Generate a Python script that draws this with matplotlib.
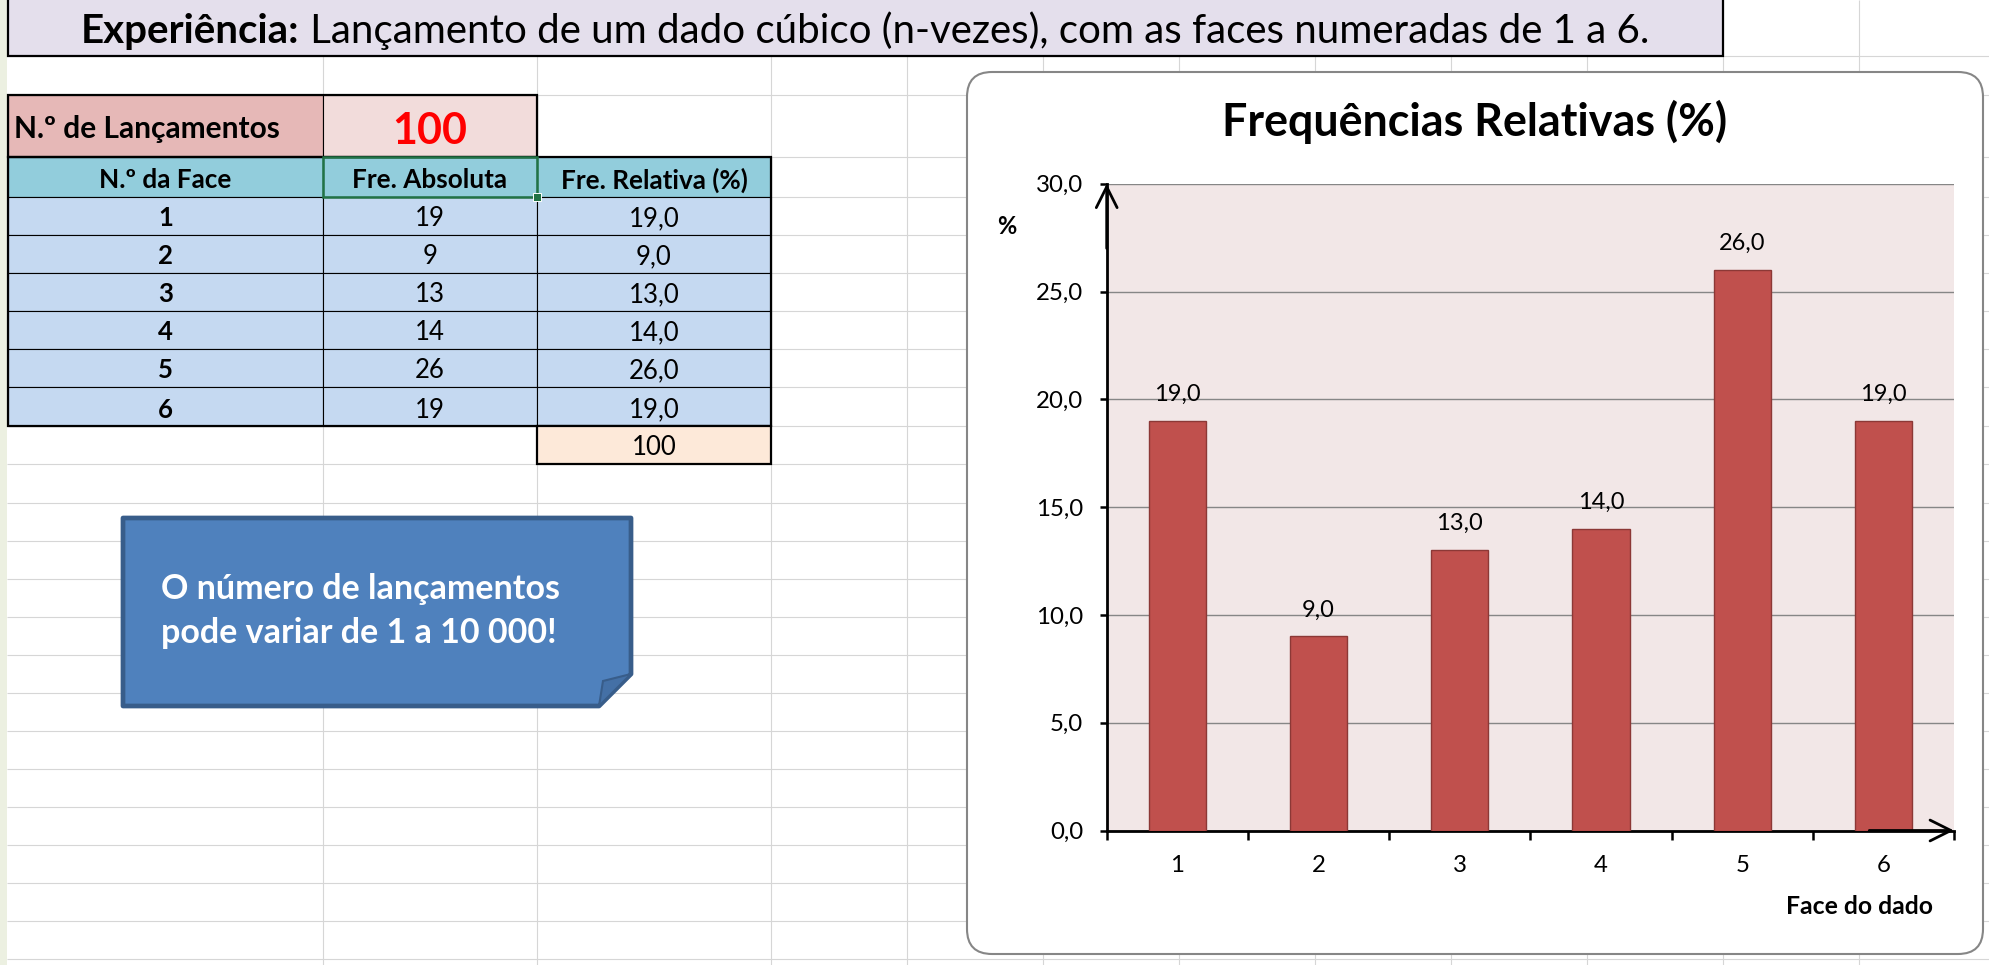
import numpy as np
import matplotlib.pyplot as plt
from matplotlib.patches import Rectangle, Polygon, FancyBboxPatch

# data
faces = [1, 2, 3, 4, 5, 6]
abs_freq = [19, 9, 13, 14, 26, 19]
rel_freq = [19.0, 9.0, 13.0, 14.0, 26.0, 19.0]
n_throws = 100
rel_total = 100
y_ticks = [0, 5, 10, 15, 20, 25, 30]

plt.rcParams['font.family'] = ['Lato', 'DejaVu Sans']

W, H = 1989, 965
fig = plt.figure(figsize=(W / 100, H / 100), dpi=100)

# background "spreadsheet" axes in pixel coords
bg = fig.add_axes([0, 0, 1, 1])
bg.set_xlim(0, W)
bg.set_ylim(H, 0)
bg.axis('off')

def comma(v):
    return f'{v:.1f}'.replace('.', ',')

# sheet grid
grid_x = [323, 537, 771, 907, 1043, 1179, 1315, 1451, 1587, 1723, 1859]
grid_y = [56, 95, 157, 197, 235, 273, 311, 349, 387, 426, 464] + list(range(503, 965, 38))
bg.vlines(grid_x, 0, H, color='#D6D6D6', lw=0.8, zorder=1)
bg.hlines(grid_y, 7, W, color='#D6D6D6', lw=0.8, zorder=1)
bg.add_patch(Rectangle((0, 0), 7, H, fc='#ECF0E1', ec='none', zorder=2))

# title banner
bg.add_patch(Rectangle((8, -5), 1715, 61, fc='#E4DFEC', ec='black', lw=1.6, zorder=3))
t1 = bg.text(0, 43, 'Experiência:', fontsize=29, weight='bold', va='baseline', zorder=5)
t2 = bg.text(0, 43, ' Lançamento de um dado cúbico (n-vezes), com as faces numeradas de 1 a 6.',
             fontsize=29, va='baseline', zorder=5)
r = fig.canvas.get_renderer()
w1 = t1.get_window_extent(r).width
w2 = t2.get_window_extent(r).width
x0 = 865 - (w1 + w2) / 2
t1.set_x(x0)
t2.set_x(x0 + w1)

# table
col_x = [8, 323, 537, 771]
row_y = [197, 235, 273, 311, 349, 387, 426]
thin = dict(ec='black', lw=0.8, zorder=3)

bg.add_patch(Rectangle((8, 95), 315, 62, fc='#E6B8B7', **thin))
bg.add_patch(Rectangle((323, 95), 214, 62, fc='#F2DCDB', **thin))
bg.add_patch(Rectangle((8, 95), 529, 62, fill=False, ec='black', lw=1.6, zorder=4))
bg.text(14, 138, 'N.º de Lançamentos', fontsize=21.5, weight='bold', va='baseline', zorder=5)
bg.text(430, 144, str(n_throws), fontsize=31, weight='bold', color='#FF0000',
        ha='center', va='baseline', zorder=5)

headers = ['N.º da Face', 'Fre. Absoluta', 'Fre. Relativa (%)']
for i, h in enumerate(headers):
    bg.add_patch(Rectangle((col_x[i], 157), col_x[i + 1] - col_x[i], 40, fc='#92CDDC', **thin))
    bg.text((col_x[i] + col_x[i + 1]) / 2, 188.5, h, fontsize=18.8, weight='bold',
            ha='center', va='baseline', zorder=5)

for j, (f, a, rv) in enumerate(zip(faces, abs_freq, rel_freq)):
    y0, y1 = row_y[j], row_y[j + 1]
    cells = [(str(f), 'bold'), (str(a), 'normal'), (comma(rv), 'normal')]
    for i, (s, wt) in enumerate(cells):
        bg.add_patch(Rectangle((col_x[i], y0), col_x[i + 1] - col_x[i], y1 - y0, fc='#C5D9F1', **thin))
        bg.text((col_x[i] + col_x[i + 1]) / 2, y1 - 8.5, s, fontsize=18.5, weight=wt,
                ha='center', va='baseline', zorder=5)

bg.add_patch(Rectangle((8, 157), 763, 269, fill=False, ec='black', lw=1.6, zorder=4))
bg.add_patch(Rectangle((537, 426), 234, 38, fc='#FDE9D9', ec='black', lw=1.6, zorder=4))
bg.text(654, 455, str(rel_total), fontsize=18.5, ha='center', va='baseline', zorder=5)

# selected cell
bg.add_patch(Rectangle((323, 157), 214, 40, fill=False, ec='#217346', lw=1.8, zorder=6))
bg.add_patch(Rectangle((533, 193), 8, 8, fc='#217346', ec='white', lw=0.7, zorder=7))

# note box with folded corner
bg.add_patch(Polygon([(123, 518), (631, 518), (631, 674), (599, 706), (123, 706)],
                     closed=True, fc='#4F81BD', ec='#385D8A', lw=3.4, joinstyle='round', zorder=3))
bg.add_patch(Polygon([(599, 706), (603, 681), (631, 674)], closed=True,
                     fc='#4470A6', ec='#385D8A', lw=1.5, zorder=4))
bg.text(161, 599, 'O número de lançamentos', fontsize=24.5, weight='bold', color='white',
        va='baseline', zorder=5)
bg.text(161, 643, 'pode variar de 1 a 10 000!', fontsize=24.5, weight='bold', color='white',
        va='baseline', zorder=5)

# chart panel
bg.add_patch(FancyBboxPatch((967, 72), 1016, 882, boxstyle='round,pad=0,rounding_size=25',
                            fc='white', ec='#868686', lw=1.5, zorder=3))
bg.text(1475, 122, 'Frequências Relativas (%)', fontsize=32.3, weight='bold',
        ha='center', va='center', zorder=5)
bg.text(1007, 227, '%', fontsize=17, weight='bold', ha='center', va='center', zorder=5)
bg.text(1860, 906, 'Face do dado', fontsize=17.8, weight='bold', ha='center', va='center', zorder=5)

# the chart itself
left, right, top, bottom = 1106.7, 1954, 183.7, 830.5
ax = fig.add_axes([left / W, (H - bottom) / H, (right - left) / W, (bottom - top) / H])
ax.set_facecolor('#F2E7E7')
bars = ax.bar(faces, rel_freq, width=0.406, color='#C0504D', edgecolor='#8C3836', lw=1, zorder=3)
for x, v in zip(faces, rel_freq):
    ax.annotate(comma(v), (x, v), xytext=(0, 19), textcoords='offset points',
                ha='center', va='center', fontsize=17)

ax.set_xlim(0.5, 6.5)
ax.set_ylim(0, 30)
ax.set_yticks(y_ticks)
ax.set_yticklabels([comma(v) for v in y_ticks], fontsize=17.3)
ax.yaxis.grid(True, color='#868686', lw=1)
ax.set_axisbelow(True)

ax.set_xticks(np.arange(0.5, 6.6, 1))
ax.set_xticklabels([])
ax.set_xticks(faces, minor=True)
ax.set_xticklabels([str(f) for f in faces], minor=True, fontsize=17.3)
ax.tick_params(axis='x', which='major', direction='out', length=6.5, width=1.8)
ax.tick_params(axis='x', which='minor', length=0, pad=17.5)
ax.tick_params(axis='y', direction='out', length=5, width=1.8, pad=12)

for s in ['top', 'right']:
    ax.spines[s].set_visible(False)
for s in ['left', 'bottom']:
    ax.spines[s].set_linewidth(2)

arrow = dict(arrowstyle='->, head_length=15, head_width=7.5', mutation_scale=1,
             lw=2, color='black', shrinkA=0, shrinkB=0)
ax.annotate('', xy=(0, 1), xytext=(0, 0.9), xycoords='axes fraction', arrowprops=arrow,
            annotation_clip=False)
ax.annotate('', xy=(1, 0), xytext=(0.9, 0), xycoords='axes fraction', arrowprops=arrow,
            annotation_clip=False)

fig.savefig('out.png', dpi=100)
